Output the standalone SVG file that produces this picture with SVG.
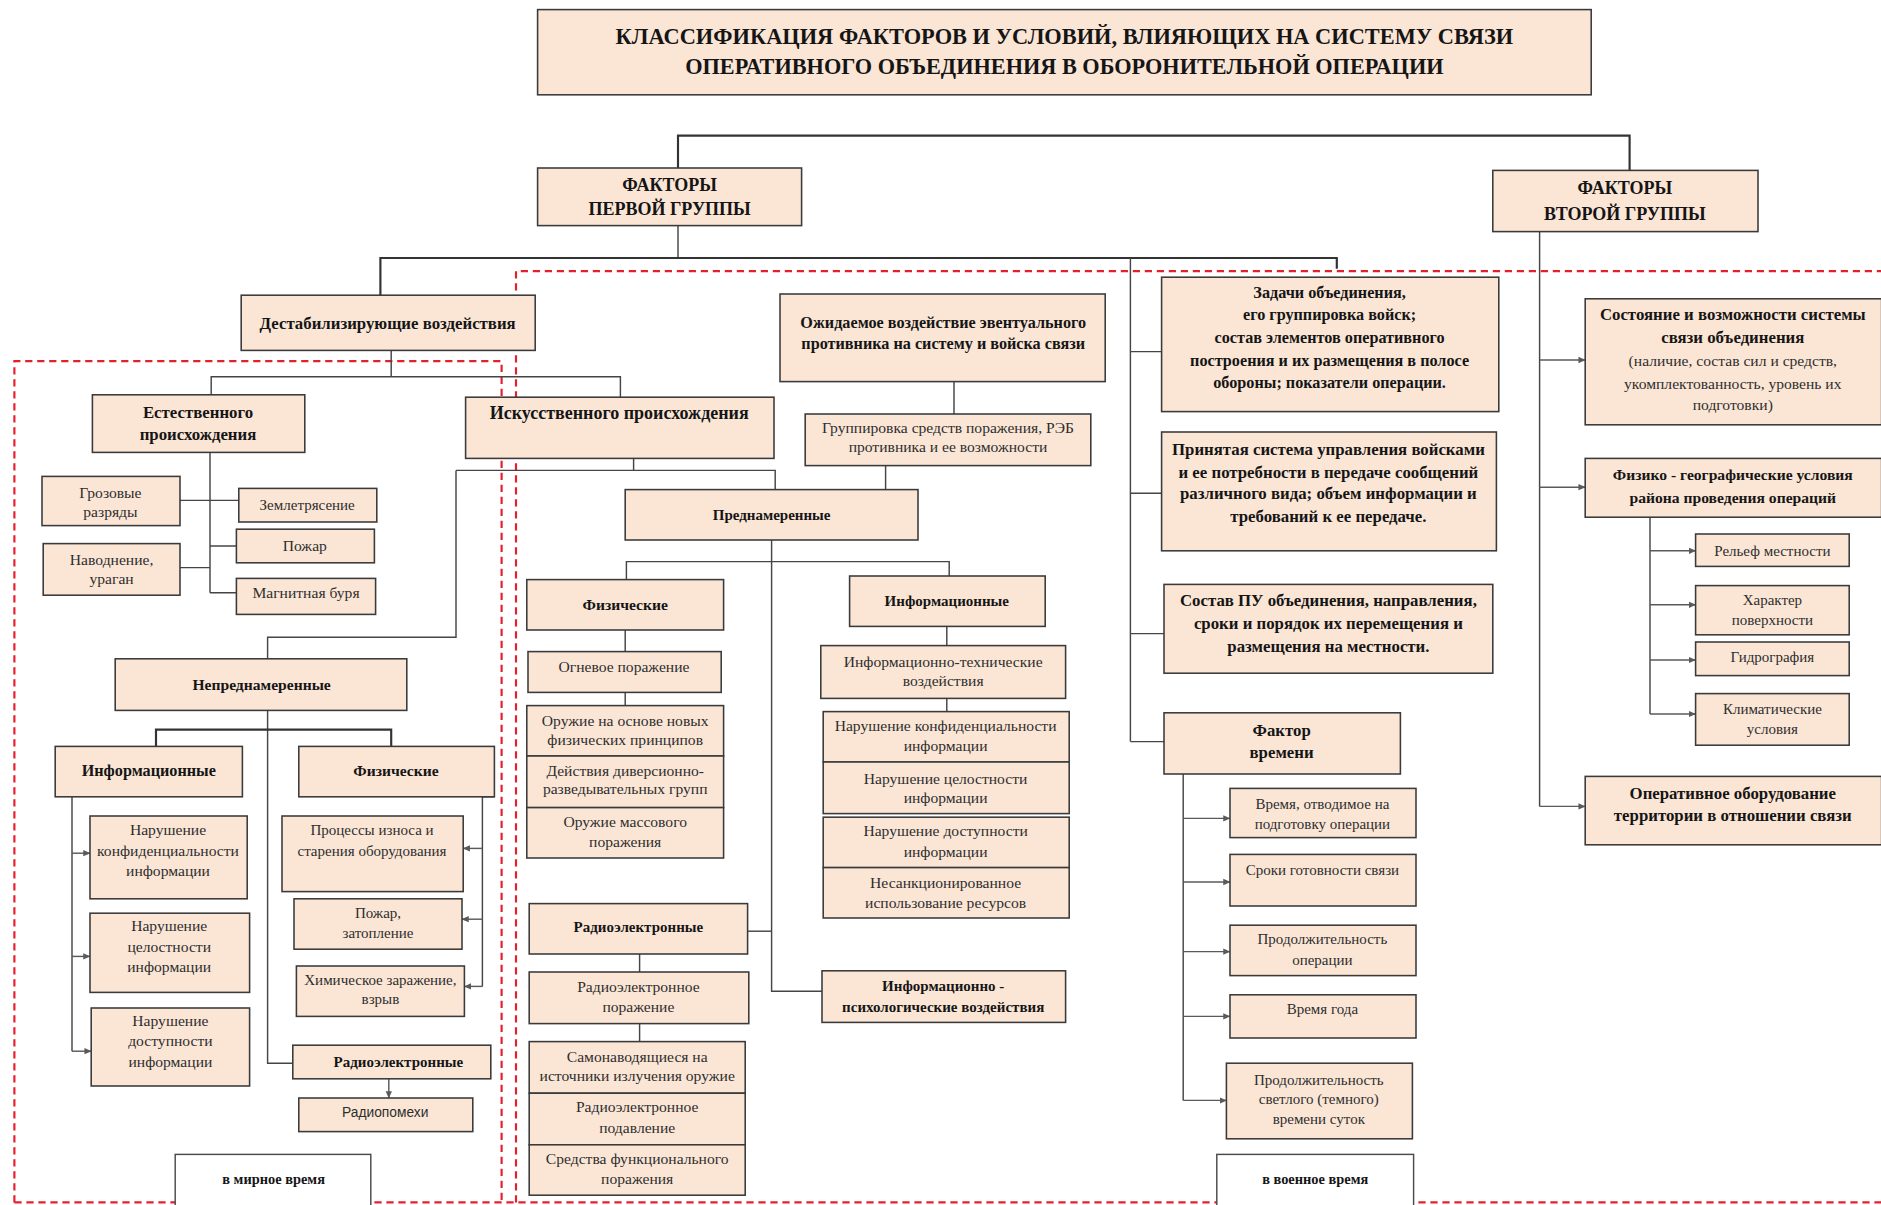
<svg xmlns="http://www.w3.org/2000/svg" width="1881" height="1205" viewBox="0 0 1881 1205">
<defs>
<style>
.b{fill:#fbe6d6;stroke:#3a3a3a;stroke-width:1.3}
.w{fill:#ffffff;stroke:#4a4a4a;stroke-width:1.2}
.t{font-family:"Liberation Serif","Times New Roman",serif;font-size:13px;fill:#2e2e2e;text-anchor:middle}
.bd{font-weight:bold;fill:#151515}
.h{font-size:19px}
.f15{font-size:15px}
.f14{font-size:14px}
.f135{font-size:13.5px}
.f125{font-size:12.5px}
.f12{font-size:12px}
.sans{font-family:"Liberation Sans",Arial,sans-serif;font-size:11.5px}
.ln{stroke:#454545;stroke-width:1.2;fill:none}
.lt{stroke:#333;stroke-width:1.8;fill:none}
.ar{stroke:#5a5a5a;stroke-width:1.2;fill:none;marker-end:url(#arr)}
.rd{stroke:#e3202b;stroke-width:1.8;stroke-dasharray:6 4;fill:none}
</style>
<marker id="arr" viewBox="0 0 8 8" refX="7.5" refY="4" markerWidth="6" markerHeight="6" orient="auto" markerUnits="userSpaceOnUse">
<path d="M0,0.5 L8,4 L0,7.5 Z" fill="#5a5a5a"/>
</marker>
</defs>
<rect x="0" y="0" width="1881" height="1205" fill="#ffffff"/>
<g transform="scale(1.2)">
<g id="frames">
<path class="rd" d="M12,1002 V301 H418 V1002"/>
<path class="rd" d="M430,1002 V226 H1568"/>
<path class="rd" d="M12,1002 H1568"/>
</g>
<g id="connectors">
<path class="lt" d="M565,140 V113 H1358 V142"/>
<path class="ln" d="M565,188 V215"/>
<path class="lt" d="M317,246 V215 H1114 V224"/>
<path class="ln" d="M942,215 V618"/>
<path class="ln" d="M942,293 H968 M942,411 H968 M942,528 H970 M942,618 H970"/>
<path class="ln" d="M326,292 V314 M176,329 V314 H517 V331"/>
<path class="ln" d="M175,377 V494 M150,417 H199 M175,455 H197 M150,473 H175 M175,494 H197"/>
<path class="ln" d="M528,382 V392 M380,392 H646 V408"/>
<path class="ln" d="M380,392 V531 H223 V549"/>
<path class="ln" d="M223,592 V886 H244"/>
<path class="lt" d="M130,622 V608 H326 V622"/>
<path class="ln" d="M60,664 V876"/>
<path class="ar" d="M60,711 H75"/>
<path class="ar" d="M60,797 H75"/>
<path class="ar" d="M60,876 H76"/>
<path class="ln" d="M412,664 H402 V822"/>
<path class="ar" d="M402,707 H386"/>
<path class="ar" d="M402,766 H385"/>
<path class="ar" d="M402,822 H387"/>
<path class="ar" d="M324,899 V915"/>
<path class="ln" d="M795,318 V345 M738,388 V408"/>
<path class="ln" d="M643,450 V826 H685"/>
<path class="ln" d="M522,483 V468 H791 V480"/>
<path class="ln" d="M521,525 V543 M521,577 V588"/>
<path class="ln" d="M789,522 V538 M789,582 V593"/>
<path class="ln" d="M623,776 H643"/>
<path class="ln" d="M533,795 V810 M533,853 V868"/>
<path class="ln" d="M986,645 V917"/>
<path class="ar" d="M986,682 H1025"/>
<path class="ar" d="M986,735 H1025"/>
<path class="ar" d="M986,793 H1025"/>
<path class="ar" d="M986,847 H1025"/>
<path class="ar" d="M986,917 H1022"/>
<path class="ln" d="M1283,193 V672"/>
<path class="ar" d="M1283,300 H1321"/>
<path class="ar" d="M1283,406 H1321"/>
<path class="ar" d="M1283,672 H1321"/>
<path class="ln" d="M1375,431 V595"/>
<path class="ar" d="M1375,459 H1413"/>
<path class="ar" d="M1375,504 H1413"/>
<path class="ar" d="M1375,550 H1413"/>
<path class="ar" d="M1375,595 H1413"/>
</g>
<g id="title">
<rect class="b" x="448" y="8" width="878" height="71"/>
<text class="t bd h" x="887" y="37" textLength="748" lengthAdjust="spacingAndGlyphs">КЛАССИФИКАЦИЯ  ФАКТОРОВ И УСЛОВИЙ, ВЛИЯЮЩИХ НА СИСТЕМУ СВЯЗИ</text>
<text class="t bd h" x="887" y="62" textLength="632" lengthAdjust="spacingAndGlyphs">ОПЕРАТИВНОГО ОБЪЕДИНЕНИЯ В ОБОРОНИТЕЛЬНОЙ ОПЕРАЦИИ</text>
</g>
<g id="group1">
<rect class="b" x="448" y="140" width="220" height="48"/>
<text class="t bd f15" x="558" y="159">ФАКТОРЫ</text>
<text class="t bd f15" x="558" y="179">ПЕРВОЙ ГРУППЫ</text>
</g>
<g id="group2">
<rect class="b" x="1244" y="142" width="221" height="51"/>
<text class="t bd f15" x="1354" y="162">ФАКТОРЫ</text>
<text class="t bd f15" x="1354" y="183">ВТОРОЙ ГРУППЫ</text>
</g>
<g id="destab">
<rect class="b" x="201" y="246" width="245" height="46"/>
<text class="t bd f14" x="323" y="274">Дестабилизирующие воздействия</text>
</g>
<g id="natural">
<rect class="b" x="77" y="329" width="177" height="48"/>
<text class="t bd f14" x="165" y="348">Естественного</text>
<text class="t bd f14" x="165" y="367">происхождения</text>
</g>
<g id="n-groz">
<rect class="b" x="35" y="397" width="115" height="41"/>
<text class="t" x="92" y="415">Грозовые</text>
<text class="t" x="92" y="431">разряды</text>
</g>
<g id="n-zeml">
<rect class="b" x="199" y="407" width="115" height="28"/>
<text class="t f125" x="256" y="425">Землетрясение</text>
</g>
<g id="n-pozh">
<rect class="b" x="197" y="441" width="115" height="28"/>
<text class="t" x="254" y="459">Пожар</text>
</g>
<g id="n-navod">
<rect class="b" x="36" y="453" width="114" height="43"/>
<text class="t" x="93" y="471">Наводнение,</text>
<text class="t" x="93" y="487">ураган</text>
</g>
<g id="n-magn">
<rect class="b" x="197" y="482" width="116" height="30"/>
<text class="t" x="255" y="498">Магнитная буря</text>
</g>
<g id="artificial">
<rect class="b" x="388" y="331" width="257" height="51"/>
<text class="t bd f15" x="516" y="349">Искусственного происхождения</text>
</g>
<g id="unintent">
<rect class="b" x="96" y="549" width="243" height="43"/>
<text class="t bd" x="218" y="575">Непреднамеренные</text>
</g>
<g id="u-info">
<rect class="b" x="46" y="622" width="156" height="42"/>
<text class="t bd f135" x="124" y="647">Информационные</text>
</g>
<g id="u-phys">
<rect class="b" x="249" y="622" width="163" height="42"/>
<text class="t bd" x="330" y="647">Физические</text>
</g>
<g id="u-i1">
<rect class="b" x="75" y="680" width="131" height="69"/>
<text class="t" x="140" y="696">Нарушение</text>
<text class="t" x="140" y="713">конфиденциальности</text>
<text class="t" x="140" y="730">информации</text>
</g>
<g id="u-i2">
<rect class="b" x="75" y="761" width="133" height="66"/>
<text class="t" x="141" y="776">Нарушение</text>
<text class="t" x="141" y="793">целостности</text>
<text class="t" x="141" y="810">информации</text>
</g>
<g id="u-i3">
<rect class="b" x="76" y="840" width="132" height="65"/>
<text class="t" x="142" y="855">Нарушение</text>
<text class="t" x="142" y="872">доступности</text>
<text class="t" x="142" y="889">информации</text>
</g>
<g id="u-p1">
<rect class="b" x="235" y="680" width="151" height="63"/>
<text class="t f125" x="310" y="696">Процессы  износа и</text>
<text class="t f125" x="310" y="713">старения оборудования</text>
</g>
<g id="u-p2">
<rect class="b" x="245" y="749" width="140" height="42"/>
<text class="t f125" x="315" y="765">Пожар,</text>
<text class="t f125" x="315" y="782">затопление</text>
</g>
<g id="u-p3">
<rect class="b" x="247" y="805" width="140" height="42"/>
<text class="t f125" x="317" y="821">Химическое заражение,</text>
<text class="t f125" x="317" y="837">взрыв</text>
</g>
<g id="u-radio">
<rect class="b" x="244" y="871" width="165" height="28"/>
<text class="t bd f125" x="332" y="889">Радиоэлектронные</text>
</g>
<g id="u-pomehi">
<rect class="b" x="249" y="915" width="145" height="28"/>
<text class="t sans" x="321" y="931">Радиопомехи</text>
</g>
<g id="peace">
<rect class="w" x="146" y="962" width="163" height="50"/>
<text class="t bd f12" x="228" y="987">в мирное время</text>
</g>
<g id="expected">
<rect class="b" x="650" y="245" width="271" height="73"/>
<text class="t bd f135" x="786" y="273">Ожидаемое  воздействие эвентуального</text>
<text class="t bd f135" x="786" y="291">противника на систему и войска связи</text>
</g>
<g id="grouping">
<rect class="b" x="671" y="345" width="238" height="43"/>
<text class="t" x="790" y="361">Группировка средств поражения, РЭБ</text>
<text class="t" x="790" y="377">противника и ее возможности</text>
</g>
<g id="intent">
<rect class="b" x="521" y="408" width="244" height="42"/>
<text class="t bd f125" x="643" y="433">Преднамеренные</text>
</g>
<g id="i-phys">
<rect class="b" x="439" y="483" width="164" height="42"/>
<text class="t bd" x="521" y="508">Физические</text>
</g>
<g id="i-fire">
<rect class="b" x="440" y="543" width="161" height="34"/>
<text class="t" x="520" y="560">Огневое поражение</text>
</g>
<g id="i-p1">
<rect class="b" x="439" y="588" width="164" height="42"/>
<text class="t" x="521" y="605">Оружие на основе новых</text>
<text class="t" x="521" y="621">физических принципов</text>
</g>
<g id="i-p2">
<rect class="b" x="439" y="630" width="164" height="43"/>
<text class="t" x="521" y="647">Действия диверсионно-</text>
<text class="t" x="521" y="662">разведывательных групп</text>
</g>
<g id="i-p3">
<rect class="b" x="439" y="673" width="164" height="42"/>
<text class="t" x="521" y="689">Оружие массового</text>
<text class="t" x="521" y="706">поражения</text>
</g>
<g id="i-info">
<rect class="b" x="708" y="480" width="163" height="42"/>
<text class="t bd f125" x="789" y="505">Информационные</text>
</g>
<g id="i-tech">
<rect class="b" x="684" y="538" width="204" height="44"/>
<text class="t" x="786" y="556">Информационно-технические</text>
<text class="t" x="786" y="572">воздействия</text>
</g>
<g id="i-t1">
<rect class="b" x="686" y="593" width="205" height="42"/>
<text class="t" x="788" y="609">Нарушение конфиденциальности</text>
<text class="t" x="788" y="626">информации</text>
</g>
<g id="i-t2">
<rect class="b" x="686" y="635" width="205" height="43"/>
<text class="t" x="788" y="653">Нарушение целостности</text>
<text class="t" x="788" y="669">информации</text>
</g>
<g id="i-t3">
<rect class="b" x="686" y="681" width="205" height="42"/>
<text class="t" x="788" y="697">Нарушение доступности</text>
<text class="t" x="788" y="714">информации</text>
</g>
<g id="i-t4">
<rect class="b" x="686" y="723" width="205" height="42"/>
<text class="t" x="788" y="740">Несанкционированное</text>
<text class="t" x="788" y="757">использование ресурсов</text>
</g>
<g id="i-radio">
<rect class="b" x="441" y="753" width="182" height="42"/>
<text class="t bd f125" x="532" y="777">Радиоэлектронные</text>
</g>
<g id="i-r0">
<rect class="b" x="441" y="810" width="183" height="43"/>
<text class="t" x="532" y="827">Радиоэлектронное</text>
<text class="t" x="532" y="843">поражение</text>
</g>
<g id="i-r1">
<rect class="b" x="441" y="868" width="180" height="43"/>
<text class="t" x="531" y="885">Самонаводящиеся на</text>
<text class="t" x="531" y="901">источники излучения оружие</text>
</g>
<g id="i-r2">
<rect class="b" x="441" y="911" width="180" height="43"/>
<text class="t" x="531" y="927">Радиоэлектронное</text>
<text class="t" x="531" y="944">подавление</text>
</g>
<g id="i-r3">
<rect class="b" x="441" y="954" width="180" height="42"/>
<text class="t" x="531" y="970">Средства функционального</text>
<text class="t" x="531" y="987">поражения</text>
</g>
<g id="i-psy">
<rect class="b" x="685" y="809" width="203" height="43"/>
<text class="t bd f125" x="786" y="826">Информационно -</text>
<text class="t bd f125" x="786" y="843">психологические воздействия</text>
</g>
<g id="tasks">
<rect class="b" x="968" y="231" width="281" height="112"/>
<text class="t bd f135" x="1108" y="248">Задачи объединения,</text>
<text class="t bd f135" x="1108" y="267">его группировка войск;</text>
<text class="t bd f135" x="1108" y="286">состав элементов оперативного</text>
<text class="t bd f135" x="1108" y="305">построения и их размещения в полосе</text>
<text class="t bd f135" x="1108" y="323">обороны; показатели операции.</text>
</g>
<g id="control">
<rect class="b" x="968" y="360" width="279" height="99"/>
<text class="t bd f14" x="1107" y="379">Принятая система управления войсками</text>
<text class="t bd f14" x="1107" y="398">и ее потребности в передаче сообщений</text>
<text class="t bd f14" x="1107" y="416">различного вида; объем информации и</text>
<text class="t bd f14" x="1107" y="435">требований к ее передаче.</text>
</g>
<g id="cp">
<rect class="b" x="970" y="487" width="274" height="74"/>
<text class="t bd f14" x="1107" y="505">Состав ПУ объединения, направления,</text>
<text class="t bd f14" x="1107" y="524">сроки и порядок их перемещения и</text>
<text class="t bd f14" x="1107" y="543">размещения на местности.</text>
</g>
<g id="timefactor">
<rect class="b" x="970" y="594" width="197" height="51"/>
<text class="t bd f14" x="1068" y="613">Фактор</text>
<text class="t bd f14" x="1068" y="632">времени</text>
</g>
<g id="t1">
<rect class="b" x="1025" y="657" width="155" height="41"/>
<text class="t f125" x="1102" y="674">Время, отводимое на</text>
<text class="t f125" x="1102" y="691">подготовку операции</text>
</g>
<g id="t2">
<rect class="b" x="1025" y="712" width="155" height="43"/>
<text class="t f125" x="1102" y="729">Сроки готовности связи</text>
</g>
<g id="t3">
<rect class="b" x="1025" y="771" width="155" height="42"/>
<text class="t f125" x="1102" y="787">Продолжительность</text>
<text class="t f125" x="1102" y="804">операции</text>
</g>
<g id="t4">
<rect class="b" x="1025" y="829" width="155" height="36"/>
<text class="t f125" x="1102" y="845">Время года</text>
</g>
<g id="t5">
<rect class="b" x="1022" y="886" width="155" height="63"/>
<text class="t f125" x="1099" y="904">Продолжительность</text>
<text class="t f125" x="1099" y="920">светлого (темного)</text>
<text class="t f125" x="1099" y="937">времени суток</text>
</g>
<g id="war">
<rect class="w" x="1014" y="962" width="164" height="50"/>
<text class="t bd f12" x="1096" y="987">в военное время</text>
</g>
<g id="state">
<rect class="b" x="1321" y="249" width="247" height="105"/>
<text class="t bd f14" x="1444" y="267">Состояние и возможности системы</text>
<text class="t bd f14" x="1444" y="286">связи объединения</text>
<text class="t" x="1444" y="305">(наличие, состав сил и средств,</text>
<text class="t" x="1444" y="324">укомплектованность, уровень их</text>
<text class="t" x="1444" y="342">подготовки)</text>
</g>
<g id="geo">
<rect class="b" x="1321" y="382" width="247" height="49"/>
<text class="t bd" x="1444" y="400">Физико - географические условия</text>
<text class="t bd" x="1444" y="419">района проведения операций</text>
</g>
<g id="g1">
<rect class="b" x="1413" y="445" width="128" height="27"/>
<text class="t f125" x="1477" y="463">Рельеф местности</text>
</g>
<g id="g2">
<rect class="b" x="1413" y="488" width="128" height="41"/>
<text class="t f125" x="1477" y="504">Характер</text>
<text class="t f125" x="1477" y="521">поверхности</text>
</g>
<g id="g3">
<rect class="b" x="1413" y="535" width="128" height="28"/>
<text class="t f125" x="1477" y="552">Гидрография</text>
</g>
<g id="g4">
<rect class="b" x="1413" y="578" width="128" height="43"/>
<text class="t f125" x="1477" y="595">Климатические</text>
<text class="t f125" x="1477" y="612">условия</text>
</g>
<g id="equip">
<rect class="b" x="1321" y="647" width="247" height="57"/>
<text class="t bd f14" x="1444" y="666">Оперативное оборудование</text>
<text class="t bd f14" x="1444" y="684">территории в отношении связи</text>
</g>
</g>
</svg>
